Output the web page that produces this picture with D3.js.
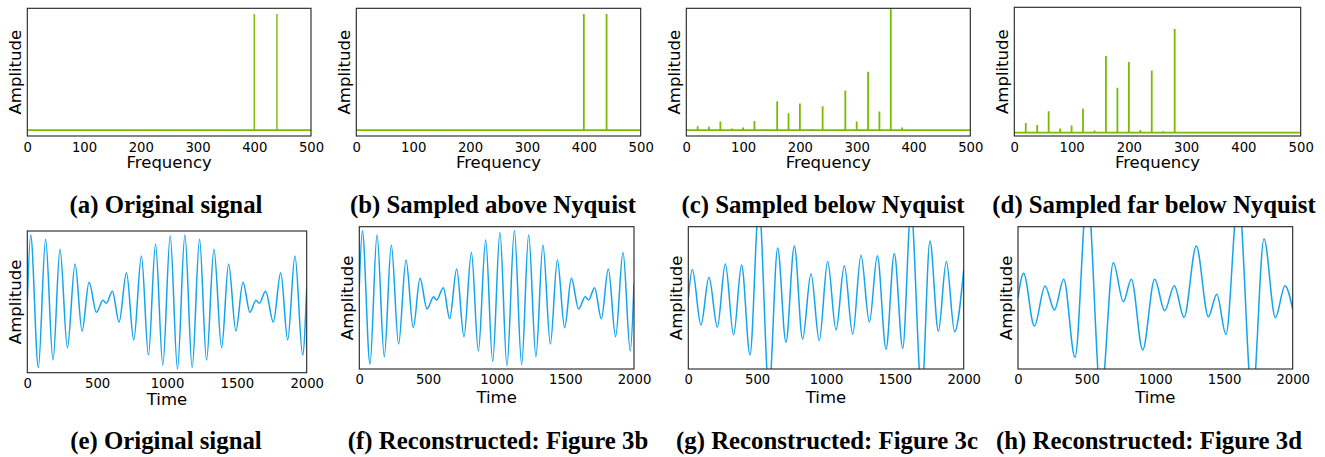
<!DOCTYPE html>
<html><head><meta charset="utf-8">
<script src="https://cdn.jsdelivr.net/npm/d3@7"></script>
<style>body{margin:0;background:#fff}svg{display:block}</style>
</head><body><svg id="c" width="1325" height="457"></svg>
<script>
// ---------- data ----------
const freqTicks = [0, 100, 200, 300, 400, 500];
const timeTicks = [0, 500, 1000, 1500, 2000];
const captions = ["(a) Original signal", "(b) Sampled above Nyquist", "(c) Sampled below Nyquist",
  "(d) Sampled far below Nyquist", "(e) Original signal", "(f) Reconstructed: Figure 3b",
  "(g) Reconstructed: Figure 3c", "(h) Reconstructed: Figure 3d"];

const freqA = [400, 440];
const ampA = [1, 1];
const freqB = [400, 440];
const ampB = [1, 1];
const freqC = [20, 40, 60, 80, 100, 120, 140, 160, 180, 200, 220, 240, 280, 300, 320, 340, 360, 380];
const ampC = [0.034, 0.029, 0.075, 0.014, 0.023, 0.080, 0.009, 0.249, 0.146, 0.229, 0.011, 0.206, 0.341, 0.075, 0.504, 0.160, 1.3, 0.023];
const freqD = [20, 40, 60, 80, 100, 120, 140, 160, 180, 200, 220, 240, 260, 280];
const ampD = [0.077, 0.061, 0.170, 0.032, 0.056, 0.191, 0.016, 0.612, 0.359, 0.564, 0.021, 0.495, 0.011, 0.827];

const timeE = [0,24,79,131,184,234,287,342,392,442,495,542,566,609,657,710,762,817,867,918,970,1023,1075,1128,1180,1233,1283,1336,1391,1441,1493,1544,1594,1637,1661,1706,1761,1814,1864,1916,1971,2000];
const ampE = [0,0.944,-0.925,0.882,-0.821,0.741,-0.647,0.534,-0.412,0.275,-0.148,0.021,-0.021,0.148,-0.285,0.412,-0.539,0.647,-0.750,0.816,-0.892,0.929,-0.948,0.944,-0.925,0.882,-0.821,0.741,-0.647,0.534,-0.412,0.275,-0.148,0.021,-0.021,0.148,-0.285,0.412,-0.539,0.647,-0.750,0.19];
const timeF = [0,22,78,129,182,233,286,340,393,442,493,541,563,612,658,709,762,816,867,920,971,1024,1075,1129,1182,1233,1286,1337,1391,1442,1495,1544,1597,1645,1670,1713,1762,1813,1866,1920,1973,2000];
const ampF = [0.15,0.939,-0.930,0.883,-0.827,0.742,-0.649,0.532,-0.419,0.274,-0.157,0.016,-0.030,0.143,-0.293,0.405,-0.546,0.639,-0.747,0.813,-0.892,0.920,-0.953,0.944,-0.939,0.883,-0.827,0.742,-0.649,0.532,-0.419,0.274,-0.157,0.016,-0.030,0.143,-0.293,0.405,-0.546,0.639,-0.747,0.2];
const timeG = [0,29,92,150,211,269,329,387,448,513,586,649,709,770,830,891,951,1012,1073,1133,1194,1254,1315,1373,1436,1496,1557,1617,1695,1755,1816,1874,1934,2000];
const ampG = [-0.01,0.40,-0.38,0.29,-0.41,0.475,-0.52,0.46,-0.80,1.30,-1.30,0.70,-0.625,0.73,-0.58,0.34,-0.60,0.51,-0.45,0.45,-0.51,0.60,-0.34,0.59,-0.72,0.625,-0.71,1.24,-1.35,0.80,-0.47,0.51,-0.475,0.39];
const timeH = [0,41,119,197,265,333,415,505,604,694,767,825,908,995,1068,1138,1209,1298,1386,1447,1514,1604,1706,1791,1874,1944,2000];
const ampH = [0,0.344,-0.396,0.166,-0.171,0.26,-0.836,1.5,-1.4,0.494,-0.054,0.26,-0.733,0.26,-0.18,0.171,-0.274,0.728,-0.265,0.049,-0.513,1.45,-1.45,0.827,-0.279,0.171,-0.16];

// ---------- layout / style ----------
const GREEN = "#77bc00", BLUE = "#13a4ee", FRAME = "#222";
const TICK_FONT = "DejaVu Sans", CAP_FONT = "Liberation Serif";
const topPanels = [
  {box: [27.3, 311, 8.3, 136], yDom: [-0.05, 1.05], f: freqA, a: ampA, cap: 166, lw: 1.4},
  {box: [356.3, 640.7, 8.3, 136], yDom: [-0.05, 1.05], f: freqB, a: ampB, cap: 493, lw: 1.8},
  {box: [686.3, 970.3, 8.3, 136], yDom: [-0.05, 1.05], f: freqC, a: ampC, cap: 823, lw: 1.8},
  {box: [1014.3, 1300.7, 7.3, 136], yDom: [-0.027, 1.0], f: freqD, a: ampD, cap: 1154, lw: 1.8}
];
const botPanels = [
  {box: [27.3, 306.7, 231, 372.7], t: timeE, a: ampE, cap: 166, tickY: 388, labY: 405},
  {box: [359.3, 634, 226.7, 369], t: timeF, a: ampF, cap: 498, tickY: 384.3, labY: 403},
  {box: [688.3, 963.7, 226.7, 369], t: timeG, a: ampG, cap: 827, tickY: 384.3, labY: 403},
  {box: [1018, 1292.7, 226.7, 369], t: timeH, a: ampH, cap: 1149, tickY: 384.3, labY: 403}
];

const svg = d3.select("#c");
const defs = svg.append("defs");
let clipN = 0;

function frame(g, x, y) {
  const [x0, x1] = x.range(), [y0, y1] = y.range();
  g.append("rect").attr("x", x0).attr("y", y1).attr("width", x1 - x0).attr("height", y0 - y1)
    .attr("fill", "none").attr("stroke", FRAME).attr("stroke-width", 1.1);
}
function clip(x, y) {
  const id = "clip" + (clipN++);
  const [x0, x1] = x.range(), [y0, y1] = y.range();
  defs.append("clipPath").attr("id", id).append("rect")
    .attr("x", x0).attr("y", y1).attr("width", x1 - x0).attr("height", y0 - y1);
  return "url(#" + id + ")";
}
function axisText(g, x, ticks, tickY, label, labY, y) {
  const ax = d3.axisBottom(x).tickValues(ticks).tickSize(0).tickPadding(0).tickFormat(d3.format("d"));
  const ag = g.append("g").attr("transform", `translate(0,${tickY})`).call(ax);
  ag.select(".domain").remove();
  ag.selectAll("text").attr("dy", 0).attr("y", 0).attr("font-family", TICK_FONT)
    .attr("font-size", 13.2).attr("fill", "#000");
  const [x0, x1] = x.range(), [y0, y1] = y.range();
  g.append("text").attr("x", (x0 + x1) / 2).attr("y", labY).attr("text-anchor", "middle")
    .attr("font-family", TICK_FONT).attr("font-size", 16.5).text(label);
  g.append("text").attr("transform", `translate(${x0 - 6},${(y0 + y1) / 2}) rotate(-90)`)
    .attr("text-anchor", "middle").attr("font-family", TICK_FONT).attr("font-size", 16.5)
    .text("Amplitude");
}

topPanels.forEach((p, i) => {
  const g = svg.append("g");
  const x = d3.scaleLinear().domain([0, 500]).range([p.box[0], p.box[1]]);
  const y = d3.scaleLinear().domain(p.yDom).range([p.box[3], p.box[2]]);
  const cg = g.append("g").attr("clip-path", clip(x, y));
  cg.append("line").attr("x1", x(0)).attr("x2", x(500)).attr("y1", y(0)).attr("y2", y(0))
    .attr("stroke", GREEN).attr("stroke-width", 1.8);
  cg.selectAll("line.sp").data(p.f.map((f, k) => ({f, a: p.a[k]}))).join("line").attr("class", "sp")
    .attr("x1", d => x(d.f)).attr("x2", d => x(d.f)).attr("y1", y(0)).attr("y2", d => y(d.a))
    .attr("stroke", GREEN).attr("stroke-width", p.lw);
  frame(g, x, y);
  axisText(g, x, freqTicks, 151.5, "Frequency", 168.3, y);
  g.append("text").attr("x", p.cap).attr("y", 213).attr("text-anchor", "middle")
    .attr("font-family", CAP_FONT).attr("font-weight", "bold").attr("font-size", 24.8)
    .text(captions[i]);
});

botPanels.forEach((p, i) => {
  const g = svg.append("g");
  const x = d3.scaleLinear().domain([0, 2000]).range([p.box[0], p.box[1]]);
  const y = d3.scaleLinear().domain([-1, 1]).range([p.box[3], p.box[2]]);
  const cg = g.append("g").attr("clip-path", clip(x, y));
  const line = d3.line().x(d => x(d[0])).y(d => y(d[1])).curve(d3.curveMonotoneX);
  cg.append("path").attr("d", line(p.t.map((t, k) => [t, p.a[k]])))
    .attr("fill", "none").attr("stroke", BLUE).attr("stroke-width", 1.5);
  frame(g, x, y);
  axisText(g, x, timeTicks, p.tickY, "Time", p.labY, y);
  g.append("text").attr("x", p.cap).attr("y", 449).attr("text-anchor", "middle")
    .attr("font-family", CAP_FONT).attr("font-weight", "bold").attr("font-size", 24.8)
    .text(captions[i + 4]);
});
</script></body></html>
